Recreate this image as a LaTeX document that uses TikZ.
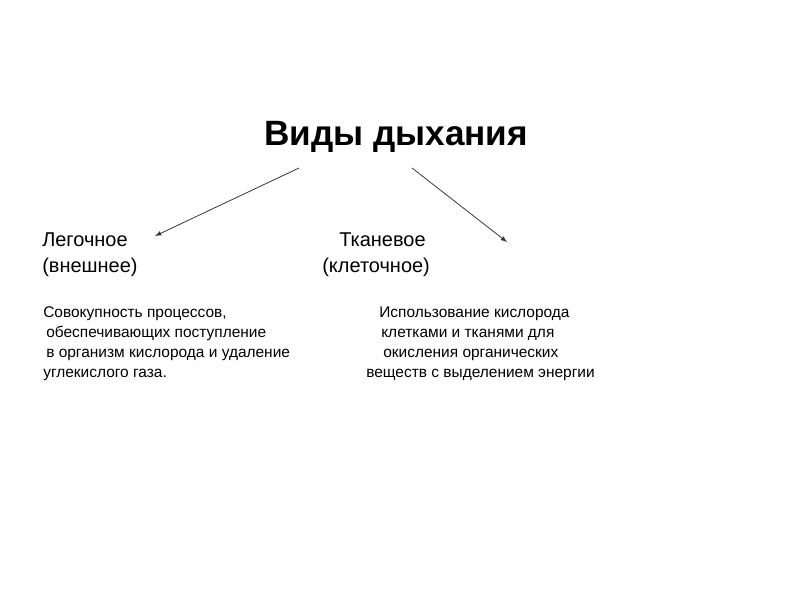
\documentclass[tikz,border=0pt]{standalone}
\usepackage{fontspec}
\setmainfont{Liberation Sans}
\usetikzlibrary{positioning}

\begin{document}
\begin{tikzpicture}[x=0.025cm,y=-0.025cm,
    title/.style={anchor=base,inner sep=0pt,font=\fontsize{25}{30}\selectfont\bfseries},
    kind/.style={anchor=base west,inner sep=0pt,font=\fontsize{14.2}{17}\selectfont},
    expl/.style={anchor=base west,inner sep=0pt,font=\fontsize{11}{13}\selectfont},
    link/.style={draw=black!80,line width=0.55pt,-latex}]
    \useasboundingbox (0,0) rectangle (800,600);
    \node[title] (vidy) at (396,145) {Виды дыхания};
    \coordinate (vl) at (299,168);
    \coordinate (vr) at (412,168);
    \coordinate (el) at (155,236);
    \coordinate (er) at (507,242);
    \draw[link] (vl) -- (el);
    \draw[link] (vr) -- (er);
    % left branch
    \node[kind] (leg) at (42,246) {Легочное};
    \node[kind] (legb) at (42,272) {(внешнее)};
    \node[expl] (l1) at (43,317) {Совокупность процессов,};
    \node[expl] (l2) at (46,337) {обеспечивающих поступление};
    \node[expl] (l3) at (46,357) {в организм кислорода и удаление};
    \node[expl] (l4) at (43,377) {углекислого газа.};
    % right branch
    \node[kind] (tk) at (339,246) {Тканевое};
    \node[kind] (tkb) at (322,272) {(клеточное)};
    \node[expl] (r1) at (379,317) {Использование кислорода};
    \node[expl] (r2) at (381,337) {клетками и тканями для};
    \node[expl] (r3) at (383,357) {окисления органических};
    \node[expl] (r4) at (366,377) {веществ с выделением энергии};
\end{tikzpicture}
\end{document}
